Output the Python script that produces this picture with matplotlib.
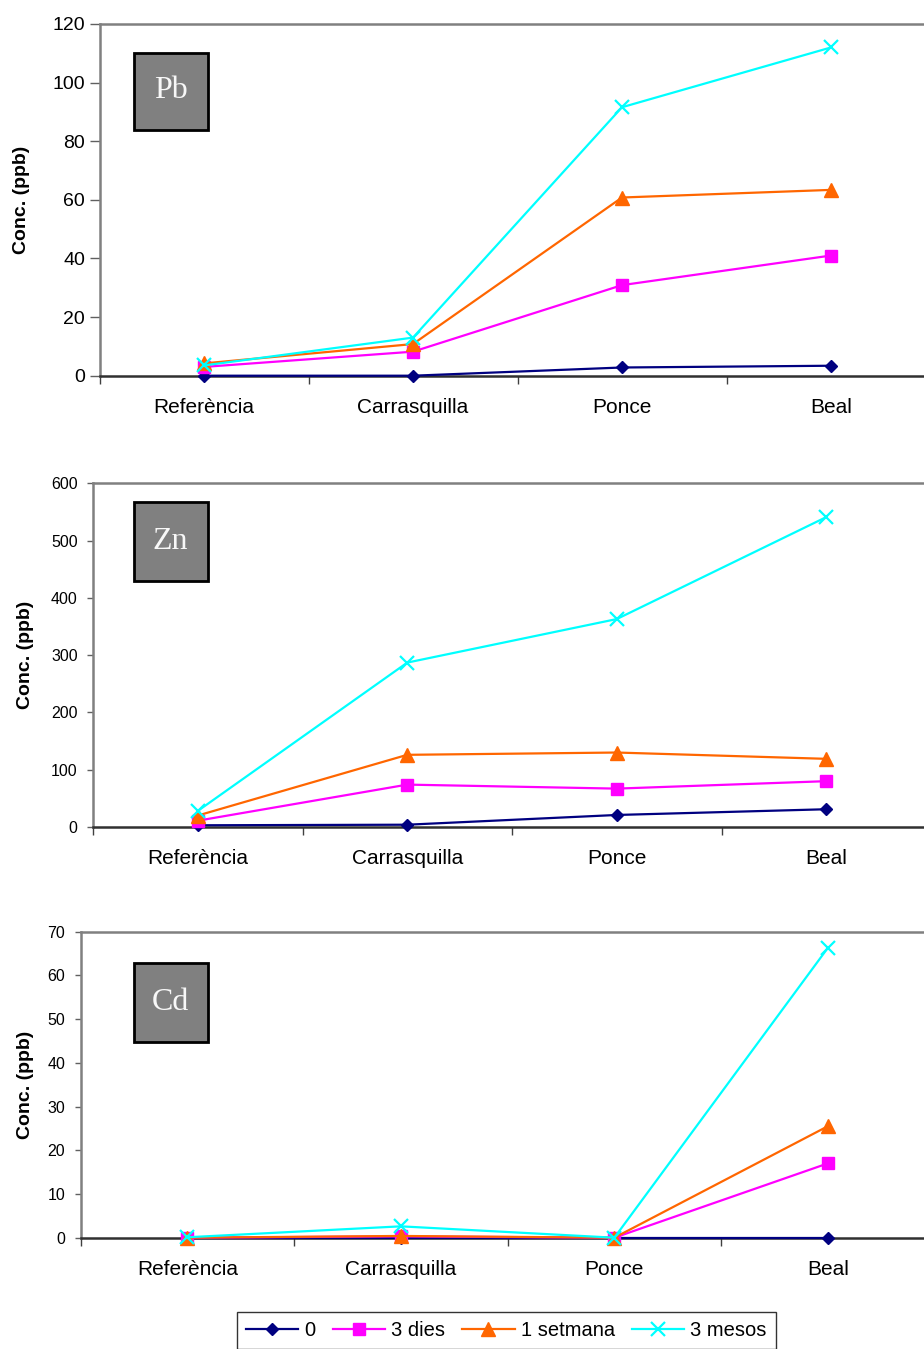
import matplotlib
matplotlib.use("Agg")
import matplotlib.pyplot as plt
from matplotlib.patches import Rectangle
from matplotlib.ticker import FixedLocator, MultipleLocator

plt.rcParams['font.family'] = ['Liberation Sans', 'DejaVu Sans']

categories = ['Referència', 'Carrasquilla', 'Ponce', 'Beal']
series_names = ['0', '3 dies', '1 setmana', '3 mesos']

pb_0 = [0, 0, 2.8, 3.4]
pb_3d = [3.0, 8.2, 30.9, 41.0]
pb_1s = [4.2, 10.8, 60.8, 63.4]
pb_3m = [3.5, 13.0, 91.6, 112.0]

zn_0 = [3, 4, 21, 31]
zn_3d = [11, 74, 67, 80]
zn_1s = [20, 126, 130, 119]
zn_3m = [28, 287, 363, 541]

cd_0 = [0, 0, 0, 0]
cd_3d = [0, 0.3, 0, 17.0]
cd_1s = [0, 0.4, 0, 25.5]
cd_3m = [0.1, 2.6, 0, 66.3]

W, H = 924, 1349
fig = plt.figure(figsize=(W / 100, H / 100), dpi=100)

styles = [
    dict(color='#000080', marker='D', ms=6.5),
    dict(color='#FF00FF', marker='s', ms=8),
    dict(color='#FF6600', marker='^', ms=9.5),
    dict(color='#00FFFF', marker='x', ms=10, mew=1.6),
]

# panel layout in pixels: left spine, category spacing, top, zero line
panels = [
    dict(name='Pb', data=[pb_0, pb_3d, pb_1s, pb_3m], left=99.5, step=209, top=24, bottom=375.7,
         ymax=120, ystep=20, tfs=14, tlen=7, tpad=3.5, ylab_x=22, box=(133.5, 52.5, 207.5, 129.5)),
    dict(name='Zn', data=[zn_0, zn_3d, zn_1s, zn_3m], left=93, step=209.5, top=483.3, bottom=827,
         ymax=600, ystep=100, tfs=11.5, tlen=4, tpad=7, ylab_x=25, box=(133.5, 502.5, 207.5, 581)),
    dict(name='Cd', data=[cd_0, cd_3d, cd_1s, cd_3m], left=80.6, step=213.5, top=931.7, bottom=1237.7,
         ymax=70, ystep=10, tfs=11.5, tlen=4, tpad=7, ylab_x=25, box=(133.5, 963, 207.5, 1042)),
]

x = list(range(len(categories)))
handles = []
for p in panels:
    width = p['step'] * 4
    ax = fig.add_axes([p['left'] / W, 1 - p['bottom'] / H, width / W, (p['bottom'] - p['top']) / H])
    for i, (vals, st) in enumerate(zip(p['data'], styles)):
        ln, = ax.plot(x, vals, color=st['color'], lw=1.6, marker=st['marker'], ms=st['ms'],
                      mew=st.get('mew', 1.0), mfc=st['color'], mec=st['color'],
                      clip_on=False, zorder=3 + i, label=series_names[i])
        if p['name'] == 'Pb':
            handles.append(ln)
    ax.set_xlim(-0.5, 3.5)
    ax.set_ylim(0, p['ymax'])
    ax.yaxis.set_major_locator(MultipleLocator(p['ystep']))
    ax.xaxis.set_major_locator(FixedLocator(x))
    ax.xaxis.set_minor_locator(FixedLocator([-0.5, 0.5, 1.5, 2.5]))
    ax.set_xticklabels(categories, fontsize=15)
    ax.tick_params(axis='x', which='major', length=0, pad=16)
    ax.tick_params(axis='x', which='minor', length=6, width=1, color='#404040', direction='out')
    ax.tick_params(axis='y', length=p['tlen'], width=1, color='#606060', pad=p['tpad'],
                   labelsize=p['tfs'], direction='out')
    for s in ['top', 'left']:
        ax.spines[s].set_color('#808080')
        ax.spines[s].set_linewidth(1.8)
    ax.spines['bottom'].set_color('#303030')
    ax.spines['bottom'].set_linewidth(1.8)
    ax.spines['right'].set_visible(False)
    ax.patch.set_alpha(0)
    mid = (p['top'] + p['bottom']) / 2
    fig.text(p['ylab_x'] / W, 1 - mid / H, 'Conc. (ppb)', rotation=90, fontsize=14,
             fontweight='bold', ha='center', va='center')
    x0, y0, x1, y1 = p['box']
    fig.add_artist(Rectangle((x0 / W, 1 - y1 / H), (x1 - x0) / W, (y1 - y0) / H,
                             transform=fig.transFigure, facecolor='#808080',
                             edgecolor='black', linewidth=2))
    fig.text((x0 + x1) / 2 / W, 1 - (y0 + y1) / 2 / H, p['name'], fontsize=23,
             family=['Liberation Serif', 'DejaVu Serif'], color='#f8f8f8',
             ha='center', va='center')

leg = fig.legend(handles=handles, loc='upper left', bbox_to_anchor=(237 / W, 1 - 1312 / H),
                 ncol=4, fontsize=14.5, frameon=True, fancybox=False, edgecolor='black',
                 handlelength=2.6, handletextpad=0.3, columnspacing=0.85, borderpad=0.45,
                 borderaxespad=0)
leg.get_frame().set_linewidth(1.0)

fig.savefig('out.png', dpi=100)
